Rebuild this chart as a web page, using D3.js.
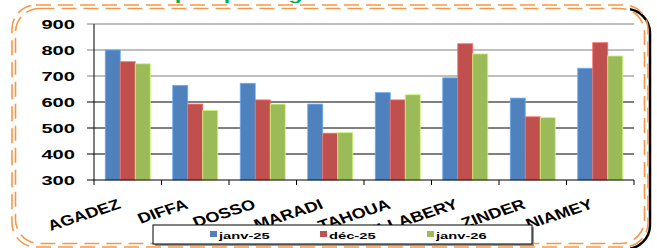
<!DOCTYPE html>
<html lang="fr">
<head>
  <meta charset="UTF-8">
  <title>Prix par région</title>
  <script src="https://d3js.org/d3.v7.min.js"></script>
  <style>
    body { margin: 0; background: #fff; }
    svg { display: block; font-family: Arial, "Liberation Sans", sans-serif; }
  </style>
</head>
<body>
<svg width="657" height="248"></svg>
<script>
  const regions = ["AGADEZ", "DIFFA", "DOSSO", "MARADI", "TAHOUA", "TILLABERY", "ZINDER", "NIAMEY"];
  const seriesNames = ["janv-25", "déc-25", "janv-26"];
  const janv25 = [800, 664, 672, 592, 636, 693, 615, 730];
  const dec25 = [755, 592, 608, 480, 608, 824, 543, 828];
  const janv26 = [747, 568, 592, 482, 628, 785, 540, 777];
  const yTicks = [300, 400, 500, 600, 700, 800, 900];
  const colors = ["#4F81BD", "#C0504D", "#9BBB59"];

  const series = [janv25, dec25, janv26];
  const sx = 1.55; // horizontal stretch of the text in the picture

  const svg = d3.select("svg");
  const plotL = 94, plotR = 634, plotT = 24, plotB = 180;

  // title, mostly cut off at the top edge
  svg.append("text")
    .attr("transform", `translate(16,-0.5) scale(${sx},1)`)
    .attr("font-size", 15).attr("font-weight", "bold").attr("fill", "#00B050")
    .text("Évolution des prix par région");

  // orange double dashed frame with dark shadow on the right
  svg.append("defs").append("clipPath").attr("id", "shadowClip")
    .append("rect").attr("x", 630).attr("y", 0).attr("width", 30).attr("height", 248);
  svg.append("rect")
    .attr("clip-path", "url(#shadowClip)")
    .attr("x", 16).attr("y", 9).attr("width", 634).attr("height", 240).attr("rx", 24)
    .attr("fill", "none").attr("stroke", "#000").attr("stroke-width", 2.5);
  [[12, 5, 636, 242], [15.5, 8.5, 629, 235]].forEach(([x, y, w, h]) => {
    svg.append("rect")
      .attr("x", x).attr("y", y).attr("width", w).attr("height", h).attr("rx", 24)
      .attr("fill", "none").attr("stroke", "#F79646").attr("stroke-width", 1.6)
      .attr("stroke-dasharray", "15,7");
  });

  const x = d3.scaleBand().domain(regions).range([plotL, plotR])
    .paddingInner(1 / 3).paddingOuter(1 / 6);
  const step = (plotR - plotL) / regions.length;
  const xs = d3.scaleBand().domain(d3.range(series.length)).range([0, x.bandwidth()]);
  const y = d3.scaleLinear().domain([300, 900]).range([plotB, plotT]);

  // grid lines and y labels
  const grid = svg.append("g");
  grid.selectAll("line").data(yTicks.filter(v => v > 300)).join("line")
    .attr("x1", plotL - 7).attr("x2", plotR)
    .attr("y1", d => y(d)).attr("y2", d => y(d))
    .attr("stroke", d => d >= 700 ? "#808080" : "#000").attr("stroke-width", 1);
  grid.selectAll("text").data(yTicks).join("text")
    .attr("transform", d => `translate(75,${y(d) + 5}) scale(${sx},1)`)
    .attr("text-anchor", "end").attr("font-size", 13).attr("font-weight", "bold")
    .text(d => d);

  // bars
  const groups = svg.append("g").selectAll("g").data(regions).join("g")
    .attr("transform", d => `translate(${x(d)},0)`);
  groups.selectAll("rect")
    .data((d, i) => series.map((s, k) => ({ k, v: s[i] })))
    .join("rect")
    .attr("x", d => xs(d.k)).attr("width", xs.bandwidth())
    .attr("y", d => y(d.v)).attr("height", d => y(300) - y(d.v))
    .attr("fill", d => colors[d.k])
    .attr("stroke", d => d3.color(colors[d.k]).brighter(0.8)).attr("stroke-width", 0.8);

  // axes lines
  svg.append("line").attr("x1", plotL).attr("x2", plotL).attr("y1", plotT).attr("y2", plotB)
    .attr("stroke", "#000");
  svg.append("line").attr("x1", plotL - 7).attr("x2", plotR).attr("y1", plotB).attr("y2", plotB)
    .attr("stroke", "#000");
  svg.append("g").selectAll("line").data(d3.range(regions.length + 1)).join("line")
    .attr("x1", i => plotL + i * step).attr("x2", i => plotL + i * step)
    .attr("y1", plotB).attr("y2", plotB + 5).attr("stroke", "#000");

  // category labels
  svg.append("g").selectAll("text").data(regions).join("text")
    .attr("transform", d => `translate(${x(d) + x.bandwidth() / 2 - 6},208) scale(1.25,1) rotate(-22)`)
    .attr("text-anchor", "end").attr("font-size", 14.5).attr("font-weight", "bold")
    .text(d => d);

  // legend
  const lg = svg.append("g");
  lg.append("rect").attr("x", 155).attr("y", 227).attr("width", 379).attr("height", 19)
    .attr("fill", "#999");
  lg.append("rect").attr("x", 153).attr("y", 225).attr("width", 379).attr("height", 19)
    .attr("fill", "#fff").attr("stroke", "#000").attr("stroke-width", 1);
  const legendX = [210, 320, 427];
  seriesNames.forEach((name, k) => {
    lg.append("rect").attr("x", legendX[k]).attr("y", 231).attr("width", 7).attr("height", 6)
      .attr("fill", colors[k]);
    lg.append("text")
      .attr("transform", `translate(${legendX[k] + 9},238.5) scale(${sx},1)`)
      .attr("font-size", 9.5).attr("font-weight", "bold").text(name);
  });
</script>
</body>
</html>
